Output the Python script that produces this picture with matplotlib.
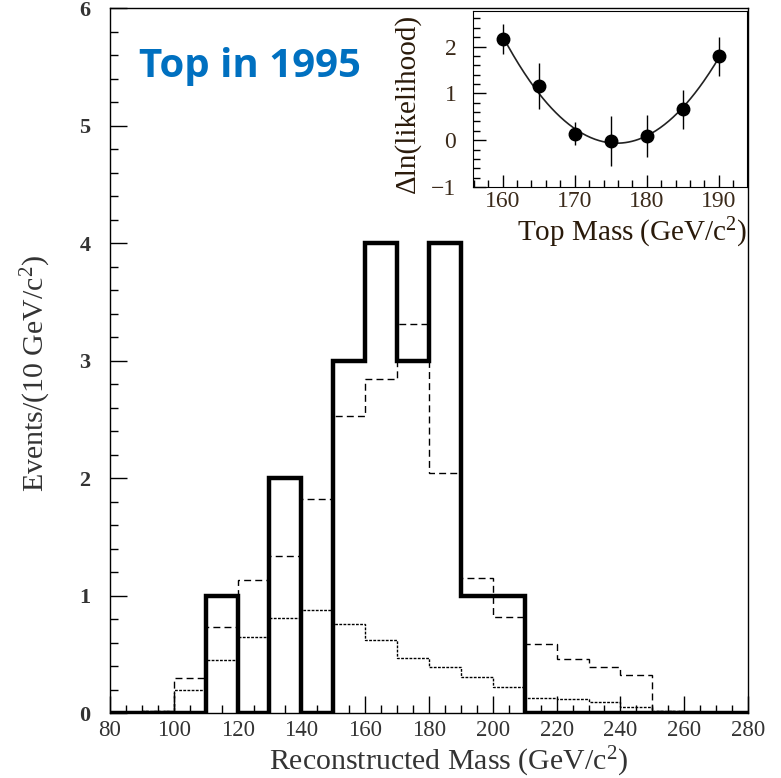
import numpy as np
import matplotlib.pyplot as plt
from matplotlib.ticker import MultipleLocator

plt.rcParams['font.family'] = ['Liberation Serif', 'DejaVu Serif']
plt.rcParams['mathtext.fontset'] = 'custom'
plt.rcParams['mathtext.rm'] = 'Liberation Serif'
plt.rcParams['mathtext.it'] = 'Liberation Serif:italic'
plt.rcParams['mathtext.bf'] = 'Liberation Serif:bold'

# histogram binning, 10 GeV bins
bin_edges = np.arange(80, 290, 10)
# observed events
data_counts = [0, 0, 0, 1, 0, 2, 0, 3, 4, 3, 4, 1, 1, 0, 0, 0, 0, 0, 0, 0]
# signal + background expectation
sig_bkg = [0, 0.02, 0.30, 0.73, 1.13, 1.34, 1.82, 2.53, 2.84, 3.31,
           2.04, 1.15, 0.82, 0.59, 0.46, 0.39, 0.32, 0.02, 0, 0]
# background only
bkg = [0, 0.02, 0.20, 0.45, 0.645, 0.81, 0.88, 0.76, 0.62, 0.47,
       0.395, 0.31, 0.22, 0.13, 0.12, 0.09, 0.054, 0.02, 0, 0]

# likelihood scan
top_mass = [160, 165, 170, 175, 180, 185, 190]
dlnl = [2.16, 1.16, 0.14, -0.02, 0.09, 0.66, 1.79]
dlnl_err = [0.32, 0.49, 0.24, 0.54, 0.44, 0.41, 0.41]

text_color = '#333333'

fig = plt.figure(figsize=(7.81, 7.78), dpi=100)
ax = fig.add_axes([0.1408, 0.0835, 0.817, 0.9062])

ax.stairs(sig_bkg, bin_edges, color='black', lw=1.0, ls=(0, (5, 3)), zorder=2)
ax.stairs(bkg, bin_edges, color='black', lw=1.0, ls=(0, (2, 1)), zorder=2)
ax.stairs(data_counts, bin_edges, color='black', lw=3.2, zorder=3)

ax.set_xlim(80, 280)
ax.set_ylim(0, 6)
ax.xaxis.set_major_locator(MultipleLocator(20))
ax.xaxis.set_minor_locator(MultipleLocator(5))
ax.yaxis.set_major_locator(MultipleLocator(1))
ax.yaxis.set_minor_locator(MultipleLocator(0.2))
ax.tick_params(which='both', direction='in', top=False, right=False,
               colors='black', labelcolor=text_color)
ax.tick_params(which='major', length=12, width=1)
ax.tick_params(which='minor', length=6, width=1)
ax.tick_params(axis='x', labelsize=16.5, pad=5)
ax.tick_params(axis='y', labelsize=16, pad=14)
for lab in ax.get_yticklabels():
    lab.set_fontweight('bold')
for sp in ax.spines.values():
    sp.set_linewidth(1.0)

ax.set_xlabel('Reconstructed Mass (GeV/c$^2$)', fontsize=21.5, color=text_color)
ax.set_ylabel('Events/(10 GeV/c$^2$)', fontsize=21.5, color=text_color)
ax.xaxis.set_label_coords(0.531, -0.045)
ax.yaxis.set_label_coords(-0.09, 0.482)

ax.text(0.045, 0.917, 'Top in 1995', transform=ax.transAxes, fontsize=29,
        fontweight='bold', color='#0070C0', family=['Open Sans', 'DejaVu Sans'],
        va='center', ha='left')

# inset: likelihood versus top mass
ins = fig.add_axes([0.6056, 0.7596, 0.3509, 0.2263])
ins.errorbar(top_mass, dlnl, yerr=dlnl_err, fmt='o', color='black',
             ms=9, elinewidth=1.0, capsize=0, zorder=3)
coef = np.polyfit(top_mass, dlnl, 2)
xs = np.linspace(min(top_mass), max(top_mass), 200)
ins.plot(xs, np.polyval(coef, xs), color='#222222', lw=1.2, zorder=2)

ins.set_xlim(155.9, 193.9)
ins.set_ylim(-1, 2.76)
ins.xaxis.set_major_locator(MultipleLocator(10))
ins.xaxis.set_minor_locator(MultipleLocator(2))
ins.yaxis.set_major_locator(MultipleLocator(1))
ins.yaxis.set_minor_locator(MultipleLocator(0.2))
ins.tick_params(which='both', direction='in', top=False, right=False,
                labelcolor='#3b2a1a', labelsize=17)
ins.tick_params(which='major', length=9, width=1)
ins.tick_params(which='minor', length=5, width=1)
ins.tick_params(axis='y', pad=12)
ins.tick_params(axis='x', pad=3)
ins.set_xlabel('Top Mass (GeV/c$^2$)', fontsize=21, color='#2a1a0a')
ins.set_ylabel('\u0394ln(likelihood)', fontsize=21, color='#2a1a0a')
ins.xaxis.set_label_coords(0.58, -0.165)
ins.yaxis.set_label_coords(-0.19, 0.477)

fig.savefig('out.png', dpi=100)
